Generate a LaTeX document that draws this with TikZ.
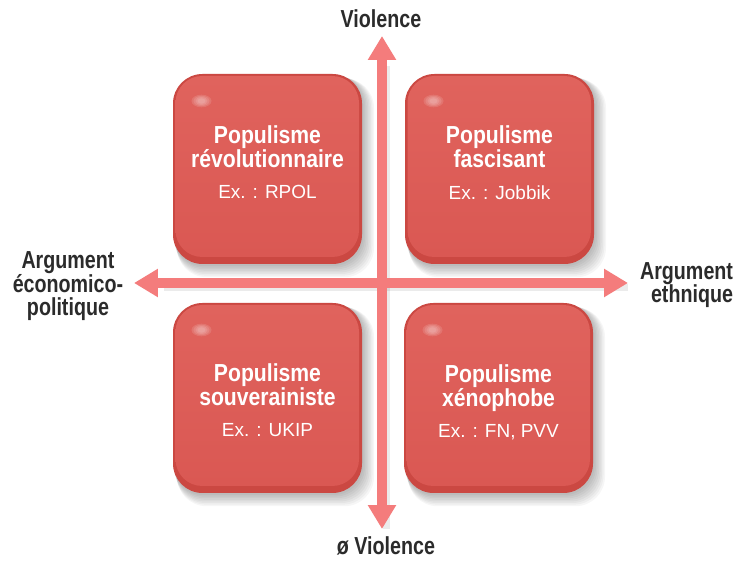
\documentclass[tikz,border=0pt]{standalone}
\usepackage{fontspec}
\setmainfont{Liberation Sans}
\newfontfamily\condfont[FakeStretch=0.86]{Liberation Sans}
\newfontfamily\axisfont[FakeStretch=0.8]{Liberation Sans}
\usetikzlibrary{arrows.meta}
\definecolor{axispink}{HTML}{F47C7C}
\definecolor{boxred}{HTML}{DA5853}
\definecolor{boxrim}{HTML}{CB4842}
\definecolor{boxlight}{HTML}{E0635D}
\definecolor{labelgray}{HTML}{2B2B2B}

\begin{document}
\begin{tikzpicture}[x=0.025cm, y=-0.025cm,
	axis/.style={line width=7pt, axispink, {Triangle[width=19pt,length=17pt]}-{Triangle[width=19pt,length=17pt]}},
	axislabel/.style={labelgray, font=\axisfont\bfseries\fontsize{17.5}{16.8}\selectfont},
	boxtitle/.style={white, align=center, font=\condfont\bfseries\fontsize{17.5}{17.7}\selectfont},
	boxex/.style={white, font=\fontsize{13.5}{16}\selectfont}]
	\fill[white] (0,0) rectangle (746,563);
	\useasboundingbox (0,0) rectangle (746,563);
	% soft shadows of the four boxes
	\foreach \cx/\cy in {267.5/169, 499.5/169, 267.5/398, 498.5/398} {
		\foreach \s in {0,...,7}
			\fill[black, opacity=0.035, rounded corners=21pt] (\cx-94+\s*0.5,\cy-94+\s*0.5) rectangle (\cx+96+\s*1.5,\cy+97+\s*1.6);
	}
	% axes
	\coordinate (top) at (382,36);
	\coordinate (bottom) at (382,529);
	\coordinate (left) at (134,283);
	\coordinate (right) at (628,283);
	\draw[line width=5pt, black, opacity=0.08] ([xshift=3pt]top) ++(0,30) -- ([xshift=3pt]bottom);
	\draw[line width=5pt, black, opacity=0.08] ([yshift=-3pt]left) ++(30,0) -- ([yshift=-3pt]right);
	\draw[axis] (top) -- (bottom);
	\draw[axis] (left) -- (right);
	\node[axislabel, anchor=base] (violence) at (381,28) {Violence};
	\node[axislabel, anchor=base] (noviolence) at (386,555) {ø Violence};
	\node[axislabel, align=center, anchor=base] (ecopol) at (68,316) {Argument\\économico-\\politique};
	\node[axislabel, align=right, anchor=base east, font=\axisfont\bfseries\fontsize{17.5}{17}\selectfont] (ethn) at (738,303) {Argument\\ethnique};
	% boxes
	\foreach \cx/\cy in {267.5/169, 499.5/169, 267.5/398, 498.5/398} {
		\fill[boxrim, rounded corners=21pt] (\cx-94.5,\cy-95) rectangle (\cx+94.5,\cy+95);
		\shade[top color=boxlight, bottom color=boxred, rounded corners=19pt] (\cx-92,\cy-93) rectangle (\cx+91.5,\cy+88);
		\foreach \r in {1,...,4}
			\fill[white, opacity=0.12] (\cx-66,\cy-68) ellipse ({2+\r*2} and {1.5+\r*1.2});
	}
	\node[boxtitle, anchor=base] (rev) at (267.5,168) {Populisme\\révolutionnaire};
	\node[boxex, anchor=base] (rev-ex) at (267.5,199) {Ex. : RPOL};
	\node[boxtitle, anchor=base] (fasc) at (499.5,168) {Populisme\\fascisant};
	\node[boxex, anchor=base] (fasc-ex) at (499.5,200) {Ex. : Jobbik};
	\node[boxtitle, anchor=base] (souv) at (267.5,406) {Populisme\\souverainiste};
	\node[boxex, anchor=base] (souv-ex) at (267.5,437) {Ex. : UKIP};
	\node[boxtitle, anchor=base] (xeno) at (498.5,407) {Populisme\\xénophobe};
	\node[boxex, anchor=base] (xeno-ex) at (498.5,438) {Ex. : FN, PVV};
\end{tikzpicture}
\end{document}
